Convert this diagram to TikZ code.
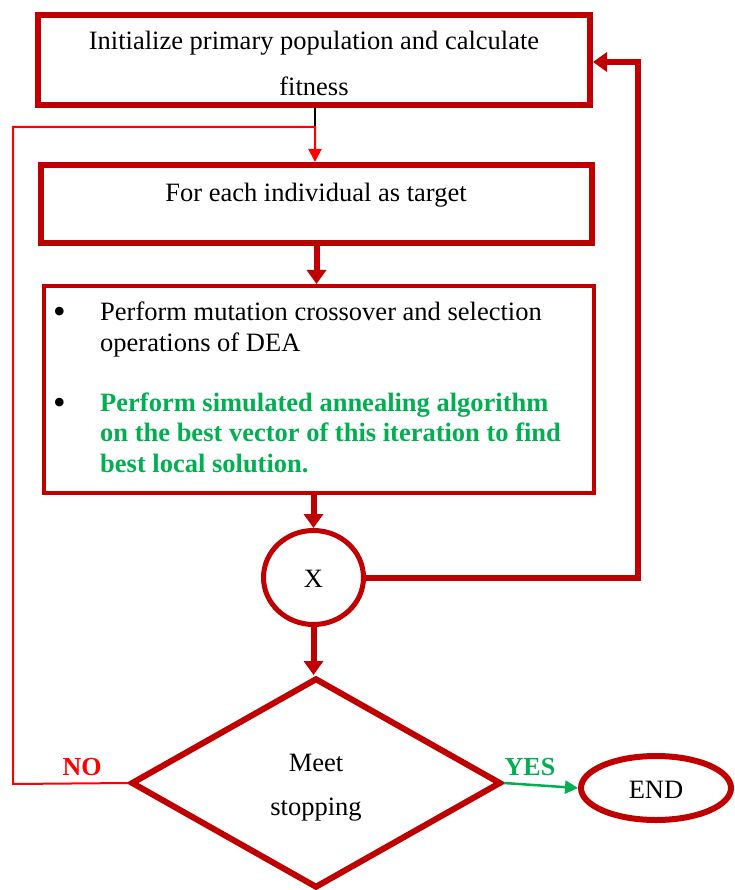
\documentclass[tikz,border=0pt]{standalone}
\usepackage{fontspec}
\setmainfont{Liberation Serif}
\usetikzlibrary{shapes.geometric,arrows.meta,calc}
\definecolor{dred}{HTML}{C00000}
\definecolor{bred}{HTML}{FF0000}
\definecolor{okgreen}{HTML}{00B050}
\begin{document}
\begin{tikzpicture}[x=1pt,y=-1pt,
  box/.style={draw=dred,line width=6pt,rectangle,inner sep=0pt},
  txt/.style={font=\fontsize{26.5}{46}\selectfont,anchor=base,inner sep=0pt},
  ltxt/.style={font=\fontsize{26.5}{31}\selectfont,anchor=base west,inner sep=0pt},
  gtxt/.style={ltxt,text=okgreen,font=\fontsize{26.5}{31}\selectfont\bfseries},
  dot/.style={font=\fontsize{36}{31}\selectfont,anchor=base west,inner sep=0pt},
  flow/.style={draw=dred,line width=6pt,-{Triangle[width=19pt,length=14pt]}},
  loopline/.style={draw=bred,line width=2pt},
  lbl/.style={font=\fontsize{26}{30}\selectfont\bfseries,anchor=base,inner sep=0pt}]
\useasboundingbox (0,0) rectangle (734,890);

% process boxes
\node[box,minimum width=552pt,minimum height=90pt] (init) at (314,60) {};
\node[txt] (initA) at (314,50) {Initialize primary population and calculate};
\node[txt] (initB) at (314,96) {fitness};

\node[box,minimum width=551pt,minimum height=78pt] (target) at (316.5,204) {};
\node[txt] (targetT) at (316,202) {For each individual as target};

\node[box,line width=4pt,minimum width=550pt,minimum height=207pt] (ops) at (319,389.5) {};
\node[dot] (b1) at (53,323) {\textbullet};
\node[ltxt] (o1) at (100,320) {Perform mutation crossover and selection};
\node[ltxt] (o2) at (100,351) {operations of DEA};
\node[dot] (b2) at (53,414) {\textbullet};
\node[gtxt] (g1) at (100,411) {Perform simulated annealing algorithm};
\node[gtxt] (g2) at (100,441) {on the best vector of this iteration to find};
\node[gtxt] (g3) at (100,472) {best local solution.};

% connector circle, decision and terminal
\node[draw=dred,line width=5pt,ellipse,minimum width=100pt,minimum height=94pt,inner sep=0pt] (xnode) at (313.5,577.5) {};
\node[txt] (xT) at (313.5,587) {X};

\node[draw=dred,line width=6pt,diamond,minimum width=370pt,minimum height=210pt,inner sep=0pt] (stop) at (316,783) {};
\node[txt] (stopA) at (316,771) {Meet};
\node[txt] (stopB) at (316,815) {stopping};

\node[draw=dred,line width=6pt,ellipse,minimum width=150pt,minimum height=64pt,inner sep=0pt] (endn) at (656,788) {};
\node[txt] (endT) at (656,798) {END};

% connectors
\coordinate (join) at (315,127);
\draw[black,line width=1.5pt] (315,108) -- (join);
\draw[loopline,-{Triangle[width=13pt,length=13pt]}] (stop.west) -- (13,784) |- (join) -- (target.north -| join);
\draw[flow] (target.south) -- (ops.north -| target.south);
\draw[flow] (ops.south -| xnode.north) -- (xnode.north);
\draw[flow] (xnode.south) -- (stop.north -| xnode.south);
\draw[flow] (xnode.east) -| (638,62) -- (init.east |- 0,62);
\draw[draw=okgreen,line width=2.5pt,-{Triangle[width=13pt,length=13pt]}] (stop.east) -- (endn.west);

% branch labels
\node[lbl,text=bred] (no) at (82,775) {NO};
\node[lbl,text=okgreen] (yes) at (530,775) {YES};
\end{tikzpicture}
\end{document}
